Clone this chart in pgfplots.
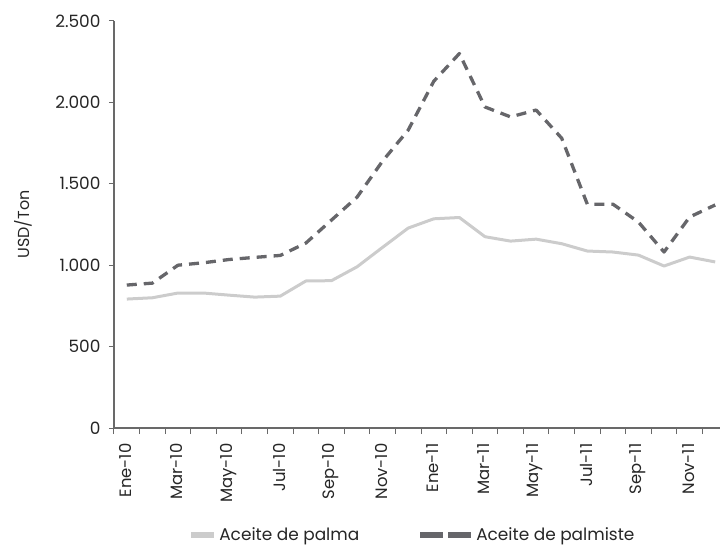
\documentclass[border=0pt]{standalone}
\usepackage{pgfplots}
\pgfplotsset{compat=1.18}
\usepackage{fontspec}
\setmainfont{Poppins}

\definecolor{palma}{RGB}{204,204,204}
\definecolor{palmiste}{RGB}{102,102,106}
\definecolor{ejes}{RGB}{105,105,105}

\pgfplotstableread{
i palma palmiste
0  792  878
1  800  890
2  829  1000
3  829  1015
4  816  1035
5  804  1048
6  810  1060
7  903  1136
8  905  1277
9  990  1418
10 1110 1640
11 1228 1830
12 1285 2130
13 1293 2300
14 1175 1972
15 1148 1911
16 1160 1953
17 1132 1780
18 1087 1375
19 1081 1375
20 1062 1265
21 995  1081
22 1050 1296
23 1020 1370
}\precios

\begin{document}
\begin{tikzpicture}
\begin{axis}[
  scale only axis, width=614bp, height=407bp,
  xmin=-0.5, xmax=23.5, ymin=0, ymax=2500,
  axis lines=left,
  axis line style={ejes, line width=1.3bp, -},
  tick style={ejes, line width=1bp},
  tick align=outside,
  major tick length=5bp,
  minor tick length=6bp,
  ytick={0,500,...,2500},
  xtick={0,2,...,22},
  major x tick style={draw=none},
  minor xtick={-0.5,0.5,...,23.5},
  xticklabels={Ene-10,Mar-10,May-10,Jul-10,Sep-10,Nov-10,Ene-11,Mar-11,May-11,Jul-11,Sep-11,Nov-11},
  xticklabel style={rotate=90, anchor=east, font=\fontsize{16.5}{18}\selectfont, text=black!85, xshift=-7bp, yshift=1bp},
  yticklabel style={font=\fontsize{17}{20}\selectfont, text=black!85, xshift=-5bp,
    /pgf/number format/.cd, fixed, 1000 sep={.}, assume math mode=true},
  ylabel={USD/Ton},
  every axis y label/.style={at={(axis description cs:-0.147,0.5)}, rotate=90, anchor=center, font=\fontsize{16}{18}\selectfont, text=black!85},
  legend columns=2,
  legend style={at={(axis description cs:0.486,-0.262)}, anchor=center, draw=none,
    font=\fontsize{17}{19}\selectfont, text=black!85,
    /tikz/every even column/.append style={column sep=56bp}},
]
\addplot[palma, line width=3bp, line join=round,
  legend image code/.code={\draw[palma, line width=6bp] (0,0) -- (23bp,0);}]
  table[x=i, y=palma] {\precios};
\addlegendentry{Aceite de palma}
\addplot[palmiste, line width=3.3bp, dash pattern=on 10bp off 7bp, line join=round,
  legend image code/.code={\draw[palmiste, line width=6bp, dash pattern=on 23bp off 5bp] (0,0) -- (51bp,0);}]
  table[x=i, y=palmiste] {\precios};
\addlegendentry{Aceite de palmiste}
\end{axis}
\pgfresetboundingbox
\useasboundingbox (-114bp,-119bp) rectangle (606bp,428bp);
\end{tikzpicture}
\end{document}
